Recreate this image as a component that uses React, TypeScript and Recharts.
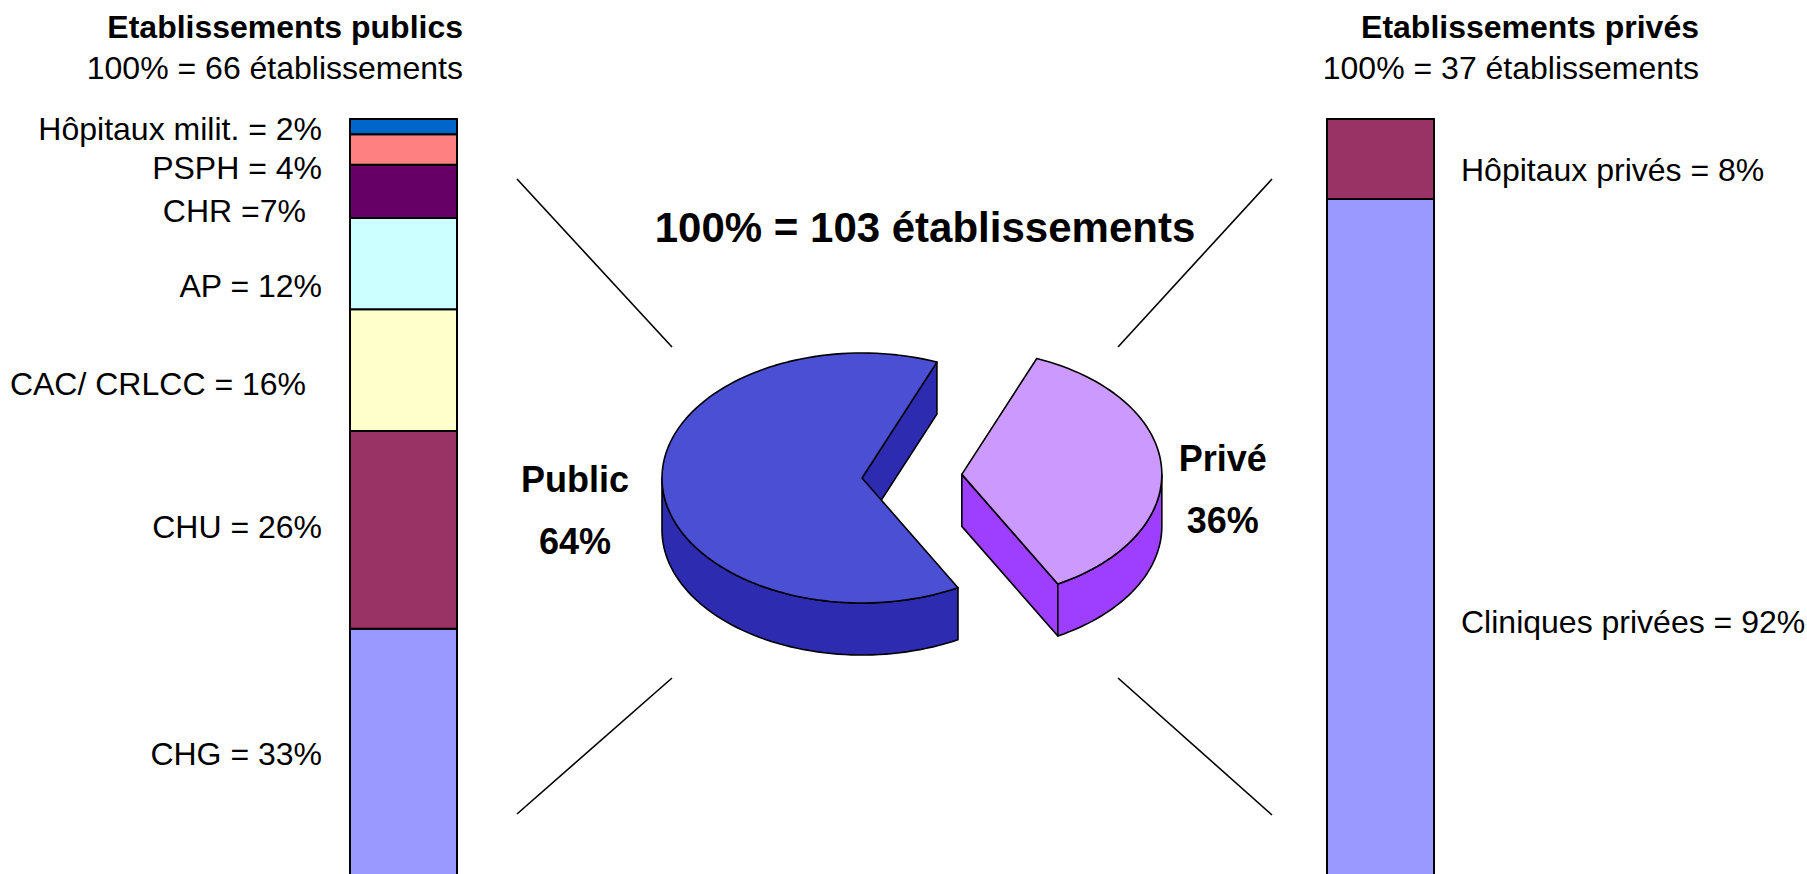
import React from "react";
import { BarChart, Bar, XAxis, YAxis, LabelList, PieChart, Pie } from "recharts";

document.body.style.margin = "0";

const FONT = '"Liberation Sans", Arial, Helvetica, sans-serif';

// Etablissements publics, listed from the top of the bar down
const publicCategories = ["Hôpitaux milit.", "PSPH", "CHR", "AP", "CAC/ CRLCC", "CHU", "CHG"];
const publicValues = [2, 4, 7, 12, 16, 26, 33];
const publicLabels = [
  "Hôpitaux milit. = 2%",
  "PSPH = 4%",
  "CHR =7%",
  "AP = 12%",
  "CAC/ CRLCC = 16%",
  "CHU = 26%",
  "CHG = 33%",
];
const publicColors = ["#0066CC", "#FF8080", "#660066", "#CCFFFF", "#FFFFCC", "#993366", "#9999FF"];

// Etablissements privés
const privateCategories = ["Hôpitaux privés", "Cliniques privées"];
const privateValues = [8, 92];
const privateLabels = ["Hôpitaux privés = 8%", "Cliniques privées = 92%"];
const privateColors = ["#993366", "#9999FF"];

// repartition of the 103 establishments
const pieNames = ["Public", "Privé"];
const pieValues = [66, 37];
const pieTopColors = ["#4B4FD3", "#CC99FF"];
const pieSideColors = ["#2D2BB0", "#9E3EFF"];

// label placement tweaks (style only)
const publicLabelDx = [0, 0, -16, 0, -16, 0, 0];
const publicLabelDy = [2, 18, 19, 22, 13, -3, -1];
const privateLabelDy = [10, -38];

const publicRow: Record<string, any> = { name: "Etablissements publics" };
publicCategories.forEach((c, i) => (publicRow[c] = publicValues[i]));
const privateRow: Record<string, any> = { name: "Etablissements privés" };
privateCategories.forEach((c, i) => (privateRow[c] = privateValues[i]));

const pieData = pieNames.map((name, i) => ({ name, value: pieValues[i] }));

const TILT = 0.625;
const DEPTH = 52;
const EXPLODE = [0, 100];

const sideLabel = (text: string, side: "left" | "right", dx: number, dy: number) => (p: any) => {
  const x = Number(p.x);
  const y = Number(p.y);
  const w = Number(p.width);
  const h = Number(p.height);
  const mid = y + h / 2 + dy;
  return (
    <text
      x={side === "left" ? x - 28 + dx : x + w + 27 + dx}
      y={mid + 11.5}
      textAnchor={side === "left" ? "end" : "start"}
      fontSize={32}
      fontFamily={FONT}
      fill="#000"
    >
      {text}
    </text>
  );
};

const pt = (cx: number, cy: number, rx: number, ry: number, deg: number) => {
  const r = (deg * Math.PI) / 180;
  return [cx + rx * Math.cos(r), cy - ry * Math.sin(r)];
};

const arc = (cx: number, cy: number, rx: number, ry: number, a0: number, a1: number) => {
  const n = Math.max(2, Math.ceil(Math.abs(a1 - a0) / 2));
  const out: number[][] = [];
  for (let i = 0; i <= n; i++) out.push(pt(cx, cy, rx, ry, a0 + ((a1 - a0) * i) / n));
  return out;
};

const poly = (pts: number[][]) => "M" + pts.map((q) => q[0].toFixed(2) + "," + q[1].toFixed(2)).join("L") + "Z";

// draws each pie sector as an exploded 3D slice, from the angles recharts computed
const renderSlice = (props: any) => {
  const { cx, cy, outerRadius, startAngle, endAngle, midAngle, index, percent, name } = props;
  const rx = outerRadius;
  const ry = outerRadius * TILT;
  const m = (midAngle * Math.PI) / 180;
  const ox = cx + EXPLODE[index] * Math.cos(m);
  const oy = cy - EXPLODE[index] * Math.sin(m) * TILT;
  const a0 = Math.min(startAngle, endAngle);
  const a1 = Math.max(startAngle, endAngle);
  const side = pieSideColors[index];
  const top = pieTopColors[index];
  const down = (q: number[]) => [q[0], q[1] + DEPTH];

  const faces: string[] = [];
  const p0 = pt(ox, oy, rx, ry, a0);
  const p1 = pt(ox, oy, rx, ry, a1);
  const c = [ox, oy];
  if (Math.cos((a0 * Math.PI) / 180) > 0) faces.push(poly([c, p0, down(p0), down(c)]));
  if (Math.cos((a1 * Math.PI) / 180) < 0) faces.push(poly([c, p1, down(p1), down(c)]));

  const walls: string[] = [];
  for (let k = -1; k <= 1; k++) {
    const s = Math.max(a0, 180 + 360 * k);
    const e = Math.min(a1, 360 + 360 * k);
    if (e > s) {
      const t = arc(ox, oy, rx, ry, s, e);
      const b = t.map(down).reverse();
      walls.push(poly([...t, ...b]));
    }
  }
  const topPath = poly([c, ...arc(ox, oy, rx, ry, a0, a1)]);

  const lx = index === 0 ? ox - rx - 87 : ox + rx + 61;
  const ly = index === 0 ? oy + 14 : oy - 3;

  return (
    <g key={"slice-" + index}>
      {faces.map((d, i) => (
        <path key={"f" + i} d={d} fill={side} stroke="#000" strokeWidth={1.6} strokeLinejoin="round" />
      ))}
      {walls.map((d, i) => (
        <path key={"w" + i} d={d} fill={side} stroke="#000" strokeWidth={1.6} strokeLinejoin="round" />
      ))}
      <path d={topPath} fill={top} stroke="#000" strokeWidth={1.6} strokeLinejoin="round" />
      <text x={lx} y={ly} textAnchor="middle" fontSize={36} fontWeight="bold" fontFamily={FONT} fill="#000">
        {name}
      </text>
      <text x={lx} y={ly + 62} textAnchor="middle" fontSize={36} fontWeight="bold" fontFamily={FONT} fill="#000">
        {Math.round(percent * 100) + "%"}
      </text>
    </g>
  );
};

const App: React.FunctionComponent = () => {
  return (
    <div
      style={{
        position: "relative",
        width: 1807,
        height: 874,
        overflow: "hidden",
        background: "#fff",
        fontFamily: FONT,
      }}
    >
      <div style={{ position: "absolute", left: 0, top: 0 }}>
        <BarChart width={507} height={880} data={[publicRow]} margin={{ top: 119, right: 0, bottom: 0, left: 300 }}>
          <XAxis dataKey="name" hide />
          <YAxis hide domain={[0, 100]} />
          {publicCategories
            .map((c, i) => (
              <Bar
                key={c}
                dataKey={c}
                stackId="pub"
                fill={publicColors[i]}
                stroke="#000"
                strokeWidth={2}
                barSize={107}
                isAnimationActive={false}
              >
                <LabelList dataKey={c} content={sideLabel(publicLabels[i], "left", publicLabelDx[i], publicLabelDy[i])} />
              </Bar>
            ))
            .reverse()}
        </BarChart>
      </div>

      <div style={{ position: "absolute", left: 1300, top: 0 }}>
        <BarChart width={507} height={1119} data={[privateRow]} margin={{ top: 119, right: 346, bottom: 0, left: 0 }}>
          <XAxis dataKey="name" hide />
          <YAxis hide domain={[0, 100]} />
          {privateCategories
            .map((c, i) => (
              <Bar
                key={c}
                dataKey={c}
                stackId="priv"
                fill={privateColors[i]}
                stroke="#000"
                strokeWidth={2}
                barSize={107}
                isAnimationActive={false}
              >
                <LabelList dataKey={c} content={sideLabel(privateLabels[i], "right", 0, privateLabelDy[i])} />
              </Bar>
            ))
            .reverse()}
        </BarChart>
      </div>

      <div style={{ position: "absolute", left: 480, top: 280 }}>
        <PieChart width={840} height={400}>
          <Pie
            data={pieData}
            dataKey="value"
            nameKey="name"
            cx={377}
            cy={193}
            outerRadius={200}
            startAngle={68}
            endAngle={428}
            fill="none"
            stroke="none"
            label={renderSlice}
            labelLine={false}
            isAnimationActive={false}
          />
        </PieChart>
      </div>

      <svg
        width={1807}
        height={874}
        style={{ position: "absolute", left: 0, top: 0, pointerEvents: "none" }}
      >
        <g fontFamily={FONT} fill="#000">
          <text x={463} y={38} textAnchor="end" fontSize={32} fontWeight="bold">
            Etablissements publics
          </text>
          <text x={463} y={79} textAnchor="end" fontSize={32}>
            100% = 66 établissements
          </text>
          <text x={1699} y={38} textAnchor="end" fontSize={32} fontWeight="bold">
            Etablissements privés
          </text>
          <text x={1699} y={79} textAnchor="end" fontSize={32}>
            100% = 37 établissements
          </text>
          <text x={925} y={242} textAnchor="middle" fontSize={42} fontWeight="bold">
            100% = 103 établissements
          </text>
        </g>
        <g stroke="#000" strokeWidth={1.6}>
          <line x1={517} y1={179} x2={672} y2={347} />
          <line x1={672} y1={678} x2={517} y2={814} />
          <line x1={1272} y1={179} x2={1118} y2={347} />
          <line x1={1118} y1={678} x2={1272} y2={815} />
        </g>
      </svg>
    </div>
  );
};

export default App;
